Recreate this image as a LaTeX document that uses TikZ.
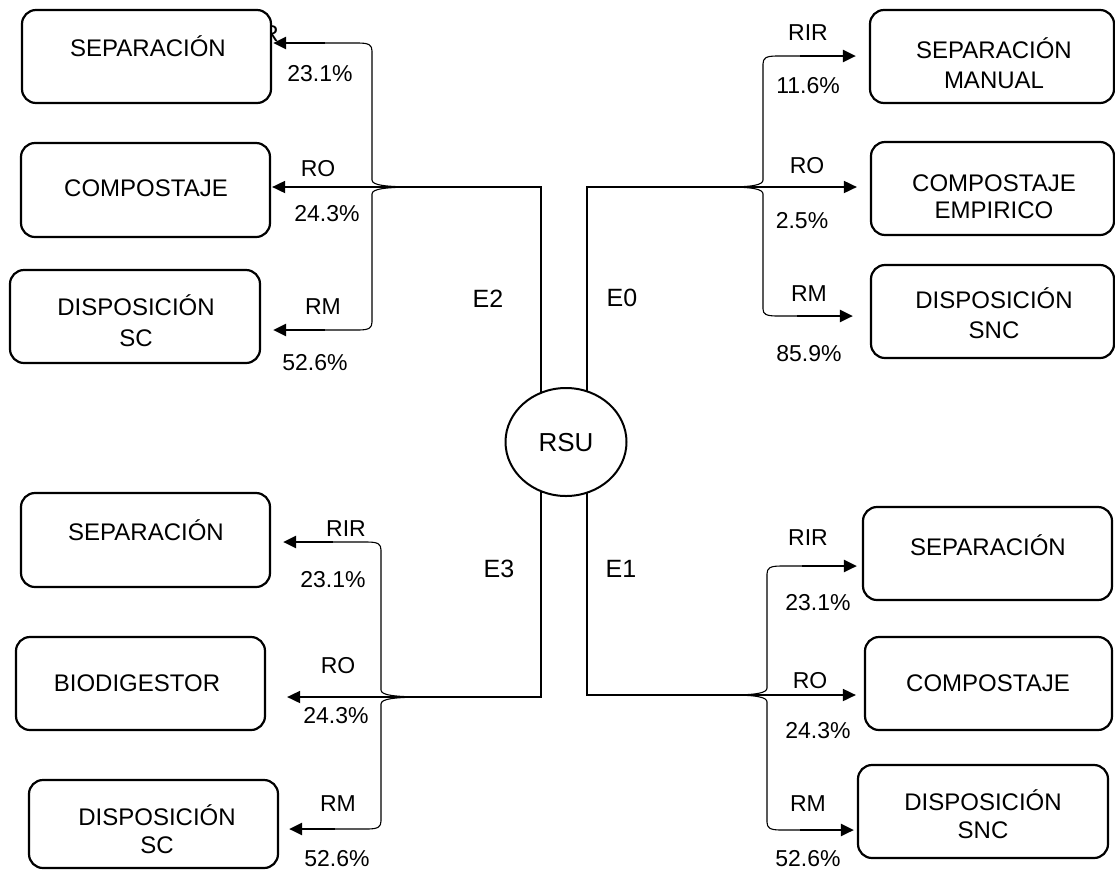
\documentclass[tikz,border=0pt]{standalone}
\usepackage{fontspec}
\setmainfont{Liberation Sans}
\usetikzlibrary{arrows.meta,shapes.geometric,backgrounds}

\begin{document}
\begin{tikzpicture}[x=1pt,y=-1pt,
  box/.style={draw, line width=2.2pt, rounded corners=14pt, fill=white, inner sep=0pt},
  boxtxt/.style={font=\fontsize{24}{28}\selectfont, inner sep=0pt, text height=17pt, text depth=0pt},
  lbl/.style={font=\fontsize{23}{27}\selectfont, inner sep=0pt, text height=16.5pt, text depth=0pt},
  elbl/.style={font=\fontsize{25}{29}\selectfont, inner sep=0pt, text height=18pt, text depth=0pt},
  trunk/.style={line width=1.4pt, line cap=rect},
  bracep/.style={line width=1.1pt},
  flow/.style={line width=1.8pt, -{Triangle[length=13pt,width=12pt]}},
  arm/.style={line width=2.4pt, -{Triangle[length=13pt,width=12pt]}},
]
\useasboundingbox (0,0) rectangle (1115,876);

% label partly covered by the first box
\node[lbl] (tlRIR) at (259,33) {RIR};

% ---------- boxes, upper left (E2) ----------
\node[box, minimum width=249pt, minimum height=93pt] (tl1) at (146.5,56.5) {};
\node[box, minimum width=249pt, minimum height=94pt] (tl2) at (145.5,190) {};
\node[box, minimum width=250pt, minimum height=93pt] (tl3) at (135,316.5) {};
\node[boxtxt] (tl1t) at (148,48) {SEPARACIÓN};
\node[boxtxt] (tl2t) at (146,188) {COMPOSTAJE};
\node[boxtxt] (tl3t) at (136,307) {DISPOSICIÓN};
\node[boxtxt] (tl3u) at (136,338) {SC};

% ---------- boxes, upper right (E0) ----------
\node[box, minimum width=244pt, minimum height=93pt] (tr1) at (992,56.5) {};
\node[box, minimum width=243pt, minimum height=93pt] (tr2) at (992.5,188.5) {};
\node[box, minimum width=243pt, minimum height=93pt] (tr3) at (992.5,311.5) {};
\node[boxtxt] (tr1t) at (994,50) {SEPARACIÓN};
\node[boxtxt] (tr1u) at (994,80) {MANUAL};
\node[boxtxt] (tr2t) at (994,183) {COMPOSTAJE};
\node[boxtxt] (tr2u) at (994,210) {EMPIRICO};
\node[boxtxt] (tr3t) at (994,300) {DISPOSICIÓN};
\node[boxtxt] (tr3u) at (994,330) {SNC};

% ---------- boxes, lower left (E3) ----------
\node[box, minimum width=249pt, minimum height=94pt] (bl1) at (145.5,540) {};
\node[box, minimum width=249pt, minimum height=93pt] (bl2) at (140.5,683.5) {};
\node[box, minimum width=249pt, minimum height=88pt] (bl3) at (153.5,824) {};
\node[boxtxt] (bl1t) at (146,532) {SEPARACIÓN};
\node[boxtxt] (bl2t) at (137,683) {BIODIGESTOR};
\node[boxtxt] (bl3t) at (157,817) {DISPOSICIÓN};
\node[boxtxt] (bl3u) at (157,845) {SC};

% ---------- boxes, lower right (E1) ----------
\node[box, minimum width=249pt, minimum height=93pt] (br1) at (987.5,553.5) {};
\node[box, minimum width=247pt, minimum height=93pt] (br2) at (988.5,683.5) {};
\node[box, minimum width=250pt, minimum height=93pt] (br3) at (983,811.5) {};
\node[boxtxt] (br1t) at (988,547) {SEPARACIÓN};
\node[boxtxt] (br2t) at (988,683) {COMPOSTAJE};
\node[boxtxt] (br3t) at (983,802) {DISPOSICIÓN};
\node[boxtxt] (br3u) at (983,830) {SNC};

% ---------- source ----------
\node[draw, ellipse, line width=2pt, fill=white, minimum width=121pt, minimum height=108pt,
      inner sep=0pt, font=\fontsize{26}{30}\selectfont, text height=18.6pt, text depth=0pt] (rsu) at (566,442) {RSU};

% branch points and brace arms
\coordinate (tlJ) at (541,187);  \coordinate (tlK) at (418,187);
\coordinate (tlA) at (325,43);   \coordinate (tlB) at (325,330);
\coordinate (trJ) at (587,187);  \coordinate (trK) at (727,187);
\coordinate (trA) at (800,56);   \coordinate (trB) at (797,316);
\coordinate (blJ) at (541,697);  \coordinate (blK) at (427,697);
\coordinate (blA) at (333,542);  \coordinate (blB) at (335,829);
\coordinate (brJ) at (587,695);  \coordinate (brK) at (730,695);
\coordinate (brA) at (802,566);  \coordinate (brB) at (800,830);

% trunks from RSU to each branch
\begin{scope}[on background layer]
  \draw[trunk] (tlJ |- rsu.center) -- (tlJ);
  \draw[trunk] (trJ |- rsu.center) -- (trJ);
  \draw[trunk] (blJ |- rsu.center) -- (blJ);
  \draw[trunk] (brJ |- rsu.center) -- (brJ);
\end{scope}

% E2 branch
\draw[flow, shorten >=1pt] (tlJ) -- (tlJ -| tl2.east);
\draw[bracep] (tlA) -- (358,43) .. controls (369,43) and (372,45) .. (372,51) -- (372,180)
  .. controls (372,185) and (384,187) .. (tlK)
  .. controls (384,187) and (372,189) .. (372,194) -- (372,322)
  .. controls (372,328) and (369,330) .. (358,330) -- (tlB);
\draw[arm, shorten >=1pt] (tlA) -- (tlA -| tl1.east);
\draw[arm, shorten >=12pt] (tlB) -- (tlB -| tl3.east);

% E0 branch
\draw[flow, shorten >=13pt] (trJ) -- (trJ -| tr2.west);
\draw[bracep] (trA) -- (777,56) .. controls (766,56) and (763,58) .. (763,64) -- (763,180)
  .. controls (763,185) and (752,187) .. (trK)
  .. controls (752,187) and (763,189) .. (763,194) -- (763,309)
  .. controls (763,314) and (766,316) .. (777,316) -- (trB);
\draw[arm, shorten >=13pt] (trA) -- (trA -| tr1.west);
\draw[arm, shorten >=17pt] (trB) -- (trB -| tr3.west);

% E3 branch
\draw[flow, shorten >=21pt] (blJ) -- (blJ -| bl2.east);
\draw[bracep] (blA) -- (367,542) .. controls (378,542) and (381,544) .. (381,550) -- (381,690)
  .. controls (381,695) and (393,697) .. (blK)
  .. controls (393,697) and (381,699) .. (381,704) -- (381,821)
  .. controls (381,827) and (378,829) .. (367,829) -- (blB);
\draw[arm, shorten >=12pt] (blA) -- (blA -| bl1.east);
\draw[arm, shorten >=10pt] (blB) -- (blB -| bl3.east);

% E1 branch
\draw[flow, shorten >=8pt] (brJ) -- (brJ -| br2.west);
\draw[bracep] (brA) -- (781,566) .. controls (770,566) and (767,568) .. (767,574) -- (767,688)
  .. controls (767,693) and (756,695) .. (brK)
  .. controls (756,695) and (767,697) .. (767,702) -- (767,822)
  .. controls (767,828) and (770,830) .. (781,830) -- (brB);
\draw[arm, shorten >=5pt] (brA) -- (brA -| br1.west);
\draw[arm, shorten >=3pt] (brB) -- (brB -| br3.west);

% flow labels
\node[lbl] (tl23) at (320,73) {23.1\%};
\node[lbl] (tlRO) at (318,168) {RO};
\node[lbl] (tl24) at (327,213) {24.3\%};
\node[lbl] (tlRM) at (323,306) {RM};
\node[lbl] (tl52) at (315,362) {52.6\%};
\node[elbl] (e2) at (488,298) {E2};

\node[lbl] (trRIR) at (808,32) {RIR};
\node[lbl] (tr11) at (808,85) {11.6\%};
\node[lbl] (trRO) at (807,165) {RO};
\node[lbl] (tr25) at (802,220) {2.5\%};
\node[lbl] (trRM) at (809,293) {RM};
\node[lbl] (tr85) at (809,353) {85.9\%};
\node[elbl] (e0) at (622,297) {E0};

\node[lbl] (blRIR) at (346,528) {RIR};
\node[lbl] (bl23) at (333,579) {23.1\%};
\node[lbl] (blRO) at (338,665) {RO};
\node[lbl] (bl24) at (336,715) {24.3\%};
\node[lbl] (blRM) at (338,803) {RM};
\node[lbl] (bl52) at (337,858) {52.6\%};
\node[elbl] (e3) at (499,568) {E3};

\node[lbl] (brRIR) at (808,537) {RIR};
\node[lbl] (br23) at (818,602) {23.1\%};
\node[lbl] (brRO) at (810,680) {RO};
\node[lbl] (br24) at (818,730) {24.3\%};
\node[lbl] (brRM) at (808,803) {RM};
\node[lbl] (br52) at (808,858) {52.6\%};
\node[elbl] (e1) at (621,568) {E1};
\end{tikzpicture}
\end{document}
